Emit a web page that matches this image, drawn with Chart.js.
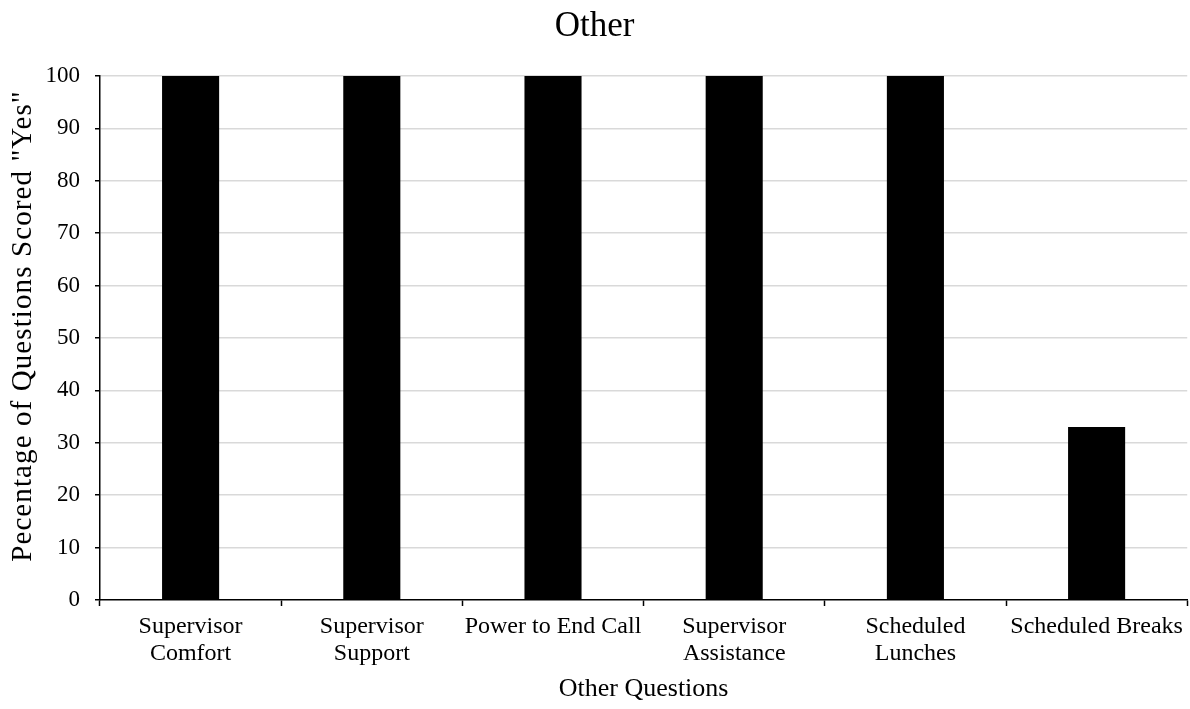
<!DOCTYPE html>
<html>
<head>
<meta charset="utf-8">
<script src="https://cdn.jsdelivr.net/npm/chart.js@4/dist/chart.umd.min.js"></script>
<style>
html,body{margin:0;padding:0;background:#fff;}
#wrap{width:1190px;height:709px;}
</style>
</head>
<body>
<div id="wrap"><canvas id="c" width="1190" height="709"></canvas></div>
<script>
const categories = [
  ["Supervisor","Comfort"],
  ["Supervisor","Support"],
  "Power to End Call",
  ["Supervisor","Assistance"],
  ["Scheduled","Lunches"],
  "Scheduled Breaks"
];
const values = [100, 100, 100, 100, 100, 33];
const yTicks = [0,10,20,30,40,50,60,70,80,90,100];
const chartTitle = 'Other';
const xTitle = 'Other Questions';
const yTitle = 'Pecentage of Questions Scored "Yes"';

const FONT = "'Liberation Serif','Times New Roman',serif";
Chart.defaults.font.family = FONT;
Chart.defaults.color = '#000';

const yTitlePlugin = {
  id: 'yTitlePlugin',
  afterDraw(chart) {
    const ctx = chart.ctx;
    const area = chart.chartArea;
    ctx.save();
    ctx.fillStyle = '#000';
    ctx.font = "29px " + FONT;
    try { ctx.letterSpacing = '1.1px'; } catch (e) {}
    ctx.textAlign = 'center';
    ctx.textBaseline = 'middle';
    ctx.translate(23, (area.top + area.bottom) / 2 - 12);
    ctx.rotate(-Math.PI / 2);
    ctx.fillText(yTitle, 0, 0);
    ctx.restore();
  }
};

new Chart(document.getElementById('c'), {
  type: 'bar',
  data: {
    labels: categories,
    datasets: [{
      data: values,
      backgroundColor: '#000',
      borderColor: '#000',
      borderWidth: 0,
      barPercentage: 0.63,
      categoryPercentage: 0.5
    }]
  },
  plugins: [yTitlePlugin],
  options: {
    responsive: false,
    animation: false,
    devicePixelRatio: 1,
    layout: { padding: { left: 0, right: 1, top: 0, bottom: 4 } },
    plugins: {
      legend: { display: false },
      tooltip: { enabled: false },
      title: {
        display: true,
        text: chartTitle,
        font: { size: 35, weight: 'normal', family: FONT, lineHeight: 1.2 },
        color: '#000',
        padding: { top: 6, bottom: 28 }
      }
    },
    scales: {
      x: {
        offset: true,
        afterFit: (s) => { s.height = 105; },
        grid: {
          display: true,
          offset: true,
          drawOnChartArea: false,
          drawTicks: true,
          tickLength: 6,
          tickColor: '#000',
          tickWidth: 1.5
        },
        border: { display: true, color: '#000', width: 1.5 },
        ticks: {
          font: { size: 24, family: FONT, lineHeight: 1.12 },
          color: '#000',
          maxRotation: 0,
          autoSkip: false,
          padding: 7
        },
        title: {
          display: true,
          text: xTitle,
          font: { size: 26, family: FONT, lineHeight: 1.2 },
          color: '#000',
          padding: 0
        }
      },
      y: {
        min: 0,
        max: 100,
        afterFit: (s) => { s.width = 100; },
        afterBuildTicks: (axis) => { axis.ticks = yTicks.map(v => ({ value: v })); },
        grid: {
          color: (ctx) => ctx.tick && ctx.tick.value === 0 ? 'rgba(0,0,0,0)' : '#d9d9d9',
          lineWidth: 1.5,
          tickColor: '#000',
          tickLength: 5,
          tickWidth: 1.5
        },
        border: { display: true, color: '#000', width: 1.5 },
        ticks: {
          font: { size: 23, family: FONT },
          color: '#000',
          padding: 15
        },
        title: { display: false }
      }
    }
  }
});
</script>
</body>
</html>
